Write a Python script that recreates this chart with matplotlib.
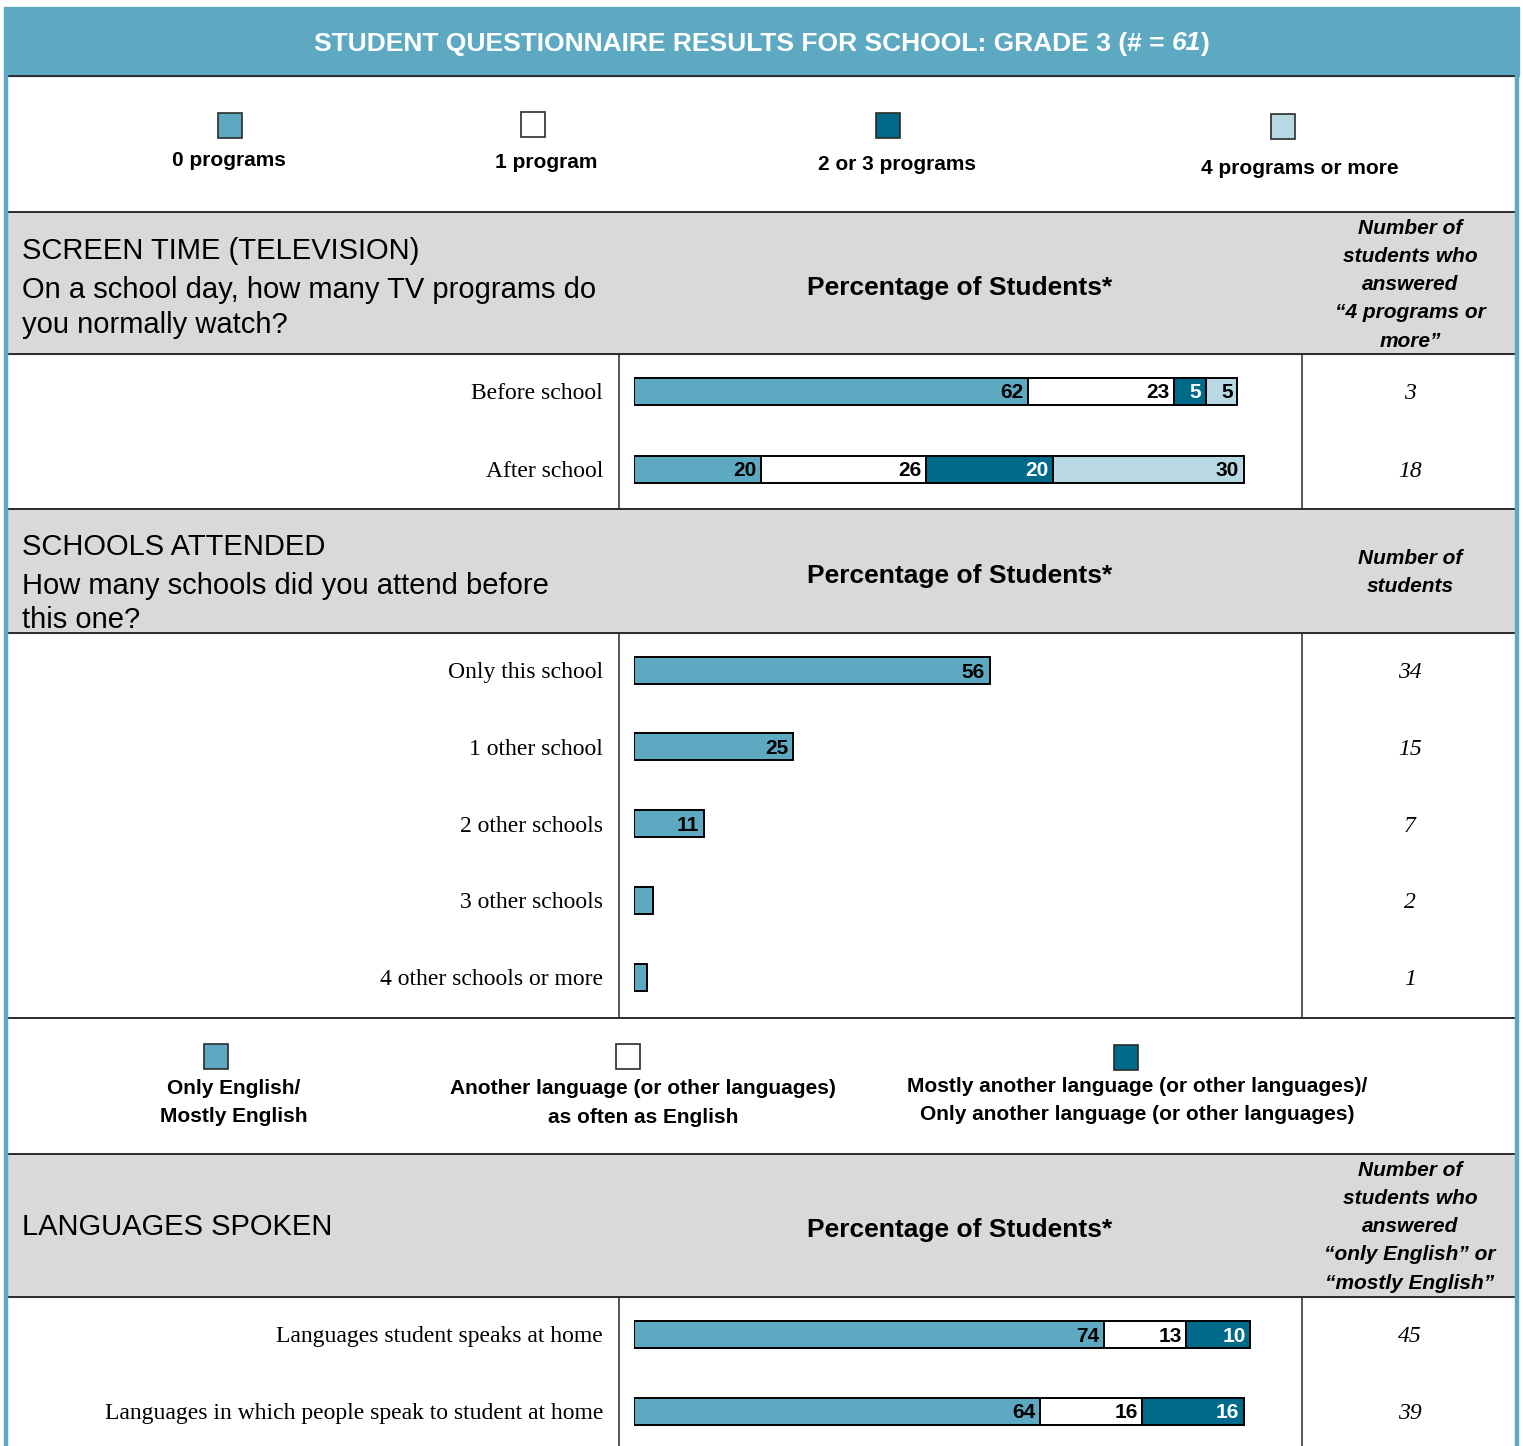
import numpy as np
import matplotlib
matplotlib.use("Agg")
import matplotlib.pyplot as plt
from matplotlib.patches import Rectangle
from matplotlib.transforms import blended_transform_factory

SANS = 'Liberation Sans'
SERIF = 'Liberation Serif'

TEAL = '#5ca9c1'
DARK = '#006a8b'
LIGHT = '#b8d8e3'
GRAY = '#d9d9d9'
LINE = '#2b2b2b'

# --- data ---
tv_rows = ['Before school', 'After school']
tv_zero = [62, 20]
tv_one = [23, 26]
tv_two_three = [5, 20]
tv_four_plus = [5, 30]
tv_counts = [3, 18]
tv_legend = ['0 programs', '1 program', '2 or 3 programs', '4 programs or more']

school_rows = ['Only this school', '1 other school', '2 other schools',
               '3 other schools', '4 other schools or more']
school_pct = [56, 25, 11, 3, 2]
school_counts = [34, 15, 7, 2, 1]

lang_rows = ['Languages student speaks at home',
             'Languages in which people speak to student at home']
lang_english = [74, 64]
lang_same = [13, 16]
lang_other = [10, 16]
lang_counts = [45, 39]
lang_legend = [['Only English/', 'Mostly English'],
               ['Another language (or other languages)', 'as often as English'],
               ['Mostly another language (or other languages)/',
                'Only another language (or other languages)']]

W, H = 1523, 1446
X0 = 634          # left edge of the bars (0 %)
PX_PCT = 6.35     # pixels per percent

fig = plt.figure(figsize=(W / 100, H / 100), dpi=100)
bg = fig.add_axes([0, 0, 1, 1])
bg.set_xlim(0, W)
bg.set_ylim(H, 0)
bg.axis('off')

# --- table frame ---
bg.add_patch(Rectangle((5, 7), 1514, 69, color=TEAL, zorder=1))
for y0, y1 in [(212, 354), (509, 633), (1154, 1297)]:
    bg.add_patch(Rectangle((8, y0), 1507, y1 - y0, color=GRAY, zorder=1))
for x in [6.5, 1517.5]:
    bg.plot([x, x], [7, H], color=TEAL, lw=3.2, zorder=3, solid_capstyle='butt')
for y in [76, 212, 354, 509, 633, 1018, 1154, 1297]:
    bg.plot([8, 1515], [y, y], color=LINE, lw=1.4, zorder=2)
for y0, y1 in [(354, 509), (633, 1018), (1297, H)]:
    for x in [619, 1302]:
        bg.plot([x, x], [y0, y1], color=LINE, lw=1.1, zorder=2)

# title: bold text with the student count in italics
renderer = fig.canvas.get_renderer()
title_parts = [('STUDENT QUESTIONNAIRE RESULTS FOR SCHOOL: GRADE 3 (# = ', 'normal'),
               ('61', 'italic'), (')', 'normal')]
pieces = []
for s, st in title_parts:
    t = bg.text(0, 41, s, family=SANS, fontsize=19, fontweight='bold', style=st,
                color='white', ha='left', va='center_baseline', zorder=4)
    pieces.append(t)
widths = [t.get_window_extent(renderer).width for t in pieces]
x = 762 - sum(widths) / 2
for t, w in zip(pieces, widths):
    t.set_x(x)
    x += w

# --- legends ---
def legend_box(x, y, color, w=24, h=25):
    bg.add_patch(Rectangle((x - w / 2, y - h / 2), w, h, facecolor=color,
                           edgecolor=LINE, lw=1.2, zorder=3))

tv_colors = [TEAL, 'white', DARK, LIGHT]
box_pos = [(230, 125), (533, 124), (888, 125), (1283, 126)]
lab_pos = [(229, 158), (546, 161), (897, 163), (1300, 167)]
for name, c, (bx, by), (lx, ly) in zip(tv_legend, tv_colors, box_pos, lab_pos):
    legend_box(bx, by, c)
    bg.text(lx, ly, name, family=SANS, fontsize=15, fontweight='bold',
            ha='center', va='center_baseline')

lang_colors = [TEAL, 'white', DARK]
box_pos = [(216, 1056), (628, 1056), (1126, 1057)]
lab_pos = [(234, 1086), (643, 1087), (1137, 1084)]
for lines, c, (bx, by), (lx, ly) in zip(lang_legend, lang_colors, box_pos, lab_pos):
    legend_box(bx, by, c)
    for i, s in enumerate(lines):
        bg.text(lx, ly + i * 28.5, s, family=SANS, fontsize=15, fontweight='bold',
                ha='center', va='center_baseline')

# --- section headers ---
def header(lines, ys, pct_y, num_lines, num_y0):
    for s, y in zip(lines, ys):
        bg.text(22, y, s, family=SANS, fontsize=21, ha='left', va='center_baseline')
    bg.text(960, pct_y, 'Percentage of Students*', family=SANS, fontsize=19,
            fontweight='bold', ha='center', va='center_baseline')
    for i, s in enumerate(num_lines):
        bg.text(1410, num_y0 + i * 28.3, s, family=SANS, fontsize=15,
                fontweight='bold', style='italic', ha='center', va='center_baseline')

header(['SCREEN TIME (TELEVISION)', 'On a school day, how many TV programs do',
        'you normally watch?'], [248, 287, 322], 286,
       ['Number of', 'students who', 'answered', '\u201c4 programs or', 'more\u201d'], 226)
header(['SCHOOLS ATTENDED', 'How many schools did you attend before', 'this one?'],
       [544, 583, 617], 574, ['Number of', 'students'], 556)
header(['LANGUAGES SPOKEN'], [1224], 1228,
       ['Number of', 'students who', 'answered', '\u201conly English\u201d or',
        '\u201cmostly English\u201d'], 1168)

# --- bar panels ---
def bar_axes(first, step, n):
    top = first - step / 2
    bottom = first + (n - 0.5) * step
    ax = fig.add_axes([X0 / W, 1 - bottom / H, 100 * PX_PCT / W, (bottom - top) / H])
    ax.set_xlim(0, 100)
    ax.set_ylim(n - 0.5, -0.5)
    ax.axis('off')
    return ax, 27 / step

def draw_section(ax, bar_h, rows, series, colors, counts):
    y = np.arange(len(rows))
    left = np.zeros(len(rows))
    for vals, c in zip(series, colors):
        vals = np.array(vals, dtype=float)
        ax.barh(y, vals, left=left, height=bar_h, color=c,
                edgecolor='black', linewidth=1.4)
        tc = 'white' if c == DARK else 'black'
        for yi, l, v in zip(y, left, vals):
            if v >= 5:
                ax.text(l + v - 0.7, yi, f'{int(v)}', family=SANS, fontsize=15,
                        fontweight='bold', color=tc, ha='right', va='center_baseline')
        left += vals
    tr = blended_transform_factory(bg.transData, ax.transData)
    for yi, name, n in zip(y, rows, counts):
        ax.text(603, yi, name, transform=tr, family=SERIF, fontsize=17,
                ha='right', va='center_baseline')
        ax.text(1410, yi, str(n), transform=tr, family=SERIF, fontsize=17,
                style='italic', ha='center', va='center_baseline')

ax_tv, h_tv = bar_axes(391, 78, len(tv_rows))
draw_section(ax_tv, h_tv, tv_rows, [tv_zero, tv_one, tv_two_three, tv_four_plus],
             tv_colors, tv_counts)

ax_sc, h_sc = bar_axes(670, 76.75, len(school_rows))
draw_section(ax_sc, h_sc, school_rows, [school_pct], [TEAL], school_counts)

ax_ln, h_ln = bar_axes(1334, 77, len(lang_rows))
draw_section(ax_ln, h_ln, lang_rows, [lang_english, lang_same, lang_other],
             lang_colors, lang_counts)

fig.savefig('out.png', dpi=100)
